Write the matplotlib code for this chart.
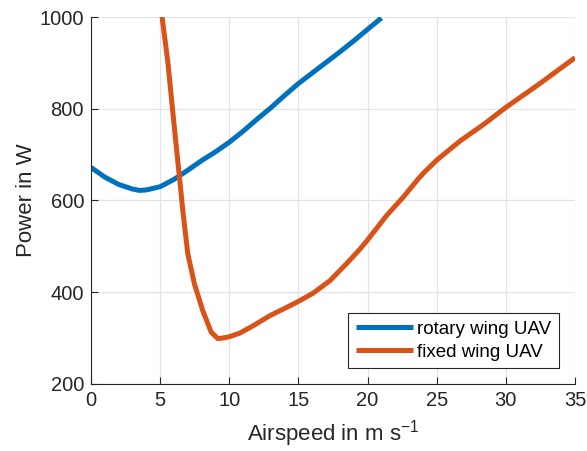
import matplotlib
matplotlib.use("Agg")
import matplotlib.pyplot as plt

plt.rcParams["font.family"] = ["Liberation Sans", "DejaVu Sans"]
plt.rcParams["mathtext.default"] = "regular"

# rotary wing UAV
rotary_speed = [0, 1, 2, 3, 3.5, 4, 5, 6, 7, 8, 9, 10, 11, 12, 13, 14,
                15, 16, 17, 18, 19, 20, 21]
rotary_power = [672, 651, 635, 625, 622, 623, 630, 646, 666, 687, 706, 727,
                751, 777, 802, 829, 855, 878, 901, 924, 948, 973, 998]

# fixed wing UAV
fixed_speed = [5.14, 5.55, 5.91, 6.2, 6.4, 6.64, 7.0, 7.48, 8.08, 8.69, 9.17,
               9.5, 10, 10.77, 11.73, 12.94, 14.15, 15, 16.06, 17.27, 18.47,
               19.45, 20, 21.37, 22.57, 23.66, 24.05, 25, 26.7, 28.4, 30,
               32.23, 34.9, 35]
fixed_power = [1000, 904, 795, 708, 650, 578, 484, 418, 360, 313, 299,
               300, 303, 311, 327, 349, 367, 380, 398, 425, 462,
               494, 514, 567, 607, 647, 660, 688, 730, 766, 803,
               850, 909, 912]

blue = "#0072BD"
orange = "#D95319"
txt = "#262626"

fig = plt.figure(figsize=(5.87, 4.51), dpi=100)
ax = fig.add_axes([0.155, 0.1486, 0.8246, 0.8137])

ax.plot(rotary_speed, rotary_power, color=blue, lw=3.6, label="rotary wing UAV",
        solid_capstyle="butt")
ax.plot(fixed_speed, fixed_power, color=orange, lw=3.6, label="fixed wing UAV",
        solid_capstyle="butt")

ax.set_xlim(0, 35)
ax.set_ylim(200, 1000)
ax.set_xticks([0, 5, 10, 15, 20, 25, 30, 35])
ax.set_yticks([200, 400, 600, 800, 1000])
ax.grid(True, color="#e3e3e3", lw=0.9)
ax.set_axisbelow(True)

for s in ["top", "right"]:
    ax.spines[s].set_visible(False)
for s in ["left", "bottom"]:
    ax.spines[s].set_color(txt)
    ax.spines[s].set_linewidth(0.8)

ax.tick_params(direction="in", length=5, width=0.8, colors=txt,
               labelsize=14.5, pad=5)

ax.set_xlabel("Airspeed in m s$^{-1}$", fontsize=16, color=txt, labelpad=6)
ax.set_ylabel("Power in W", fontsize=16, color=txt, labelpad=2)

leg = ax.legend(loc="lower right", fontsize=13.5, frameon=True, fancybox=False,
                edgecolor=txt, framealpha=1, borderaxespad=0.85,
                handlelength=3.05, handletextpad=0.25, borderpad=0.4,
                labelspacing=0.3)
leg.get_frame().set_linewidth(0.8)

fig.savefig("out.png", dpi=100)
